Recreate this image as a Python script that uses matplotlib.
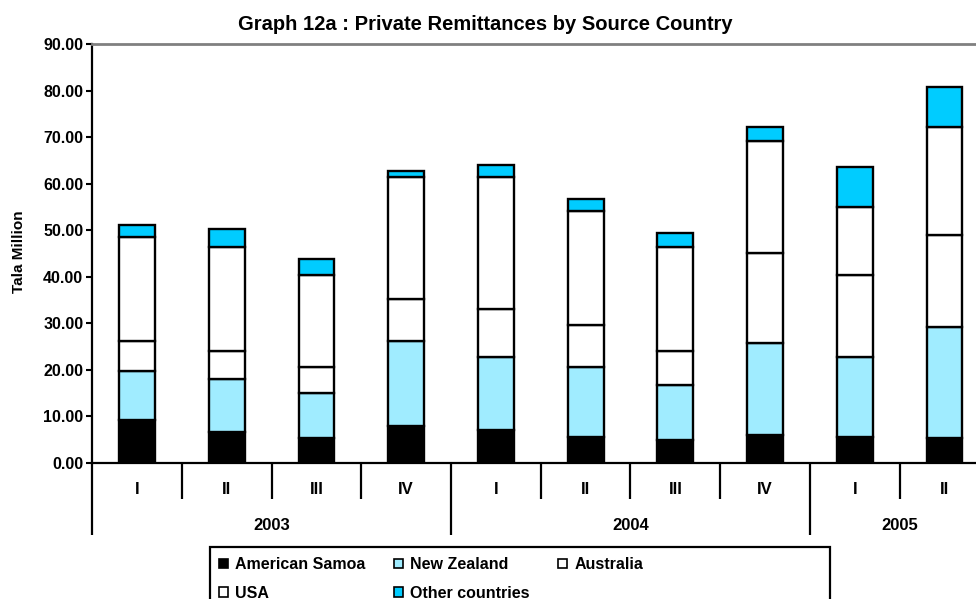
import matplotlib
matplotlib.use("Agg")
import matplotlib.pyplot as plt
from matplotlib.patches import Patch, Rectangle
from matplotlib.transforms import blended_transform_factory

plt.rcParams["font.family"] = ["Liberation Sans", "DejaVu Sans"]
plt.rcParams["font.weight"] = "bold"

# Quarterly remittances (Tala million) by source country
quarters = ["I", "II", "III", "IV", "I", "II", "III", "IV", "I", "II"]
years = ["2003", "2004", "2005"]
year_sizes = [4, 4, 2]

american_samoa = [9.2, 6.6, 5.3, 7.9, 7.1, 5.6, 4.9, 6.1, 5.6, 5.3]
new_zealand = [10.6, 11.4, 9.8, 18.3, 15.7, 15.1, 11.9, 19.7, 17.2, 24.0]
australia = [6.5, 6.1, 5.6, 9.1, 10.3, 8.9, 7.3, 19.4, 17.6, 19.7]
usa = [22.2, 22.4, 19.7, 26.2, 28.4, 24.6, 22.3, 24.0, 14.6, 23.2]
other = [2.7, 3.8, 3.5, 1.3, 2.6, 2.6, 3.0, 3.0, 8.6, 8.6]

series = [
    ("American Samoa", american_samoa, "#000000"),
    ("New Zealand", new_zealand, "#A0ECFF"),
    ("Australia", australia, "#FFFFFF"),
    ("USA", usa, "#FFFFFF"),
    ("Other countries", other, "#00CCFF"),
]

W, H = 976, 599
fig = plt.figure(figsize=(W / 100, H / 100), dpi=100)
ax_left, ax_right, ax_top, ax_bottom = 92.3, 976, 44, 463
ax = fig.add_axes([ax_left / W, 1 - ax_bottom / H,
                   (ax_right - ax_left) / W, (ax_bottom - ax_top) / H])

x = list(range(len(quarters)))
base = [0.0] * len(x)
handles = []
for name, vals, color in series:
    ax.bar(x, vals, width=0.4, bottom=base, color=color,
           edgecolor="black", linewidth=1.7, zorder=3)
    base = [b + v for b, v in zip(base, vals)]
    handles.append(Patch(facecolor=color, edgecolor="black", linewidth=1.2, label=name))

cat_px = 89.7
ax.set_xlim(-0.5, -0.5 + (ax_right - ax_left) / cat_px)
ax.set_ylim(0, 90)
ax.set_yticks([i * 10 for i in range(10)])
ax.set_yticklabels([f"{i * 10:.2f}" for i in range(10)], fontsize=11.5, fontweight="bold")
ax.tick_params(axis="y", direction="out", length=4.5, width=1.5, pad=2)
ax.set_xticks([])

ax.spines["right"].set_visible(False)
ax.spines["top"].set_color("#808080")
ax.spines["top"].set_linewidth(2)
ax.spines["left"].set_linewidth(1.6)
ax.spines["bottom"].set_linewidth(1.6)

# Category axis: quarter labels, year groups and separators
axh = ax_bottom - ax_top
trans = blended_transform_factory(ax.transData, ax.transAxes)
for i, q in enumerate(quarters):
    ax.text(i, -26 / axh, q, transform=trans, ha="center", va="center",
            fontsize=12, fontweight="bold")

start = 0
boundaries = [-0.5]
for yr, n in zip(years, year_sizes):
    ax.text(start + (n - 1) / 2, -62 / axh, yr, transform=trans, ha="center",
            va="center", fontsize=12, fontweight="bold")
    start += n
    boundaries.append(start - 0.5)

for i in range(len(quarters) + 1):
    pos = i - 0.5
    depth = 72 if pos in boundaries else 36
    ax.plot([pos, pos], [0, -depth / axh], transform=trans, color="black",
            linewidth=1.6, clip_on=False, solid_capstyle="butt")

fig.text(485 / W, 1 - 24 / H, "Graph 12a : Private Remittances by Source Country",
         ha="center", va="center", fontsize=14.5, fontweight="bold")
fig.text(19 / W, 1 - 252 / H, "Tala Million", rotation=90, ha="center",
         va="center", fontsize=11, fontweight="bold")

# Legend box runs past the bottom edge of the figure
fig.patches.append(Rectangle((210 / W, -0.05), 620 / W, 0.05 + 1 - 547 / H,
                             transform=fig.transFigure, facecolor="white",
                             edgecolor="black", linewidth=1.6, zorder=1))

# Legend filled row by row (matplotlib fills columns first)
order = [0, 3, 1, 4, 2]
leg = fig.legend([handles[i] for i in order], [handles[i].get_label() for i in order],
                 loc="upper left", bbox_to_anchor=(219 / W, 1 - 557 / H),
                 ncol=3, frameon=False,
                 prop={"size": 11.5, "weight": "bold"},
                 handlelength=0.55, handleheight=0.55, handletextpad=0.45,
                 columnspacing=1.8, labelspacing=0.85, borderpad=0,
                 borderaxespad=0)
leg.set_zorder(2)

fig.savefig("out.png", dpi=100)
